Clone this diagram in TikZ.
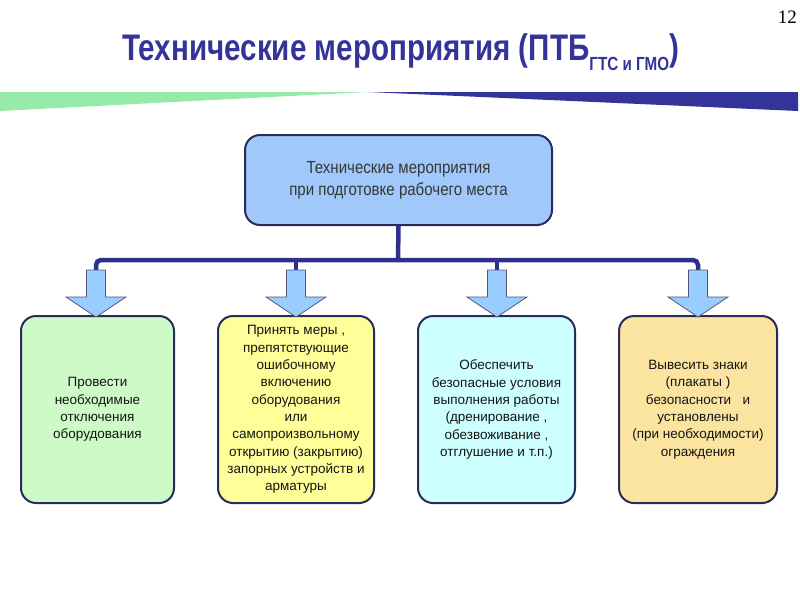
\documentclass[tikz,border=0pt]{standalone}
\usepackage{fontspec}
\setmainfont{Liberation Sans}
\newfontfamily\titlefont[FakeStretch=0.8]{Liberation Sans}
\newfontfamily\narrowfont[FakeStretch=0.86]{Liberation Sans}
\newfontfamily\numfont{Liberation Serif}
\definecolor{titleblue}{RGB}{51,51,153}
\definecolor{busblue}{RGB}{48,48,140}
\definecolor{navy}{RGB}{40,44,90}
\definecolor{bannergreen}{RGB}{150,235,170}
\definecolor{topfill}{RGB}{160,200,250}
\definecolor{arrowfill}{RGB}{153,204,255}
\definecolor{fillA}{RGB}{206,250,200}
\definecolor{fillB}{RGB}{255,255,153}
\definecolor{fillC}{RGB}{206,255,255}
\definecolor{fillD}{RGB}{250,228,160}
\definecolor{txt}{RGB}{20,20,20}
\tikzset{
  topbox/.style={draw=navy, line width=2pt, rounded corners=15pt, fill=topfill,
    minimum width=307pt, minimum height=90pt, align=center, text=txt!85,
    font=\narrowfont\fontsize{17.5}{22}\selectfont},
  itembox/.style={draw=navy, line width=2pt, rounded corners=15pt,
    minimum height=187pt, align=center, text=txt, inner sep=0pt,
    font=\fontsize{13.5}{17.3}\selectfont},
  bus/.style={draw=busblue, line width=4.5pt},
  blockarrow/.style={draw=navy!80, line width=0.8pt, fill=arrowfill},
}
\begin{document}
\begin{tikzpicture}[x=1pt,y=-1pt]
\useasboundingbox (0,0) rectangle (800,600);
% banner
\fill[bannergreen] (0,92) -- (368,92) -- (0,111) -- cycle;
\fill[titleblue] (368,92) -- (798,92) -- (798,111) -- cycle;
% title
\node[anchor=base west, inner sep=0pt, text=titleblue] (title) at (122,60)
  {\titlefont\bfseries\fontsize{37}{40}\selectfont Технические мероприятия (ПТБ\raisebox{-10pt}{\fontsize{19}{20}\selectfont ГТС и ГМО})};
\node[anchor=base east, inner sep=0pt, font=\numfont\fontsize{19}{20}\selectfont] (pnum) at (797,23) {12};
% top box
\node[topbox] (top) at (398.5,180) {Технические мероприятия\\при подготовке рабочего места};
% item boxes
\node[itembox, fill=fillA, minimum width=153pt] (b1) at (97.5,409.5)
  {Провести\\необходимые\\отключения\\оборудования};
\node[itembox, fill=fillB, minimum width=156pt] (b2) at (296,409.5)
  {Принять меры ,\\препятствующие\\ошибочному\\включению\\оборудования\\или\\самопроизвольному\\открытию (закрытию)\\запорных устройств и\\арматуры};
\node[itembox, fill=fillC, minimum width=157pt] (b3) at (496.5,409.5)
  {Обеспечить\\безопасные условия\\выполнения работы\\(дренирование ,\\обезвоживание ,\\отглушение и т.п.)};
\node[itembox, fill=fillD, minimum width=158pt] (b4) at (698,409.5)
  {Вывесить знаки\\(плакаты )\\безопасности \ \ и\\установлены\\(при необходимости)\\ограждения};
% bus
\coordinate (j) at (398,260);
\coordinate (a1) at (96,270);
\coordinate (a2) at (296,270);
\coordinate (a3) at (497,270);
\coordinate (a4) at (698,270);
\draw[bus] (top.south) -- (j);
\draw[bus, rounded corners=5pt] (a1) |- (j) -| (a4);
\draw[bus] (a2) -- (a2 |- j);
\draw[bus] (a3) -- (a3 |- j);
% block arrows
\foreach \c in {a1,a2,a3,a4}{
  \path[blockarrow] (\c) ++(-9.5,0) -- ++(19,0) -- ++(0,27) -- ++(20.5,0)
    -- ++(-30,20) -- ++(-30,-20) -- ++(20.5,0) -- cycle;
}
\end{tikzpicture}
\end{document}
